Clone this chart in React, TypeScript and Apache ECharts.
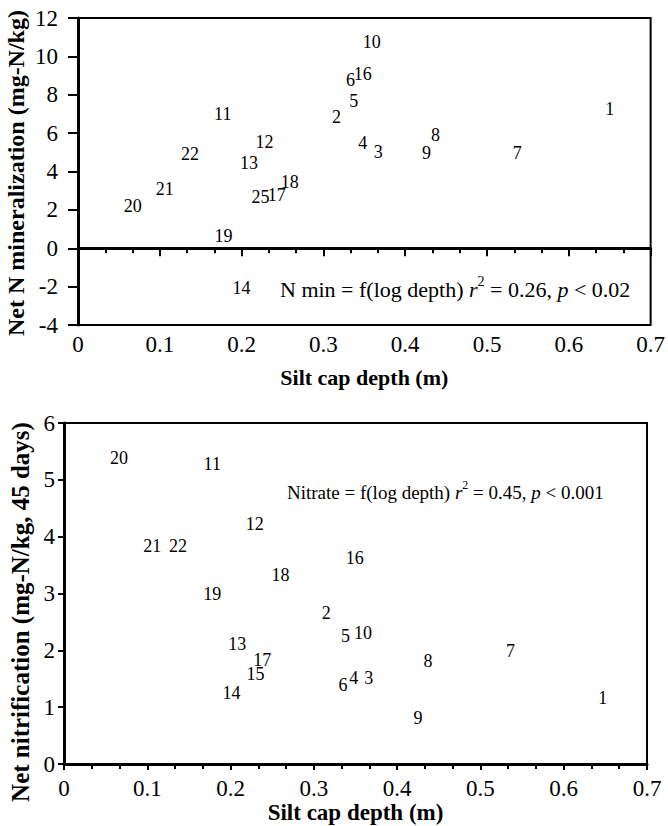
import React, { useEffect, useRef } from "react";
import * as echarts from "echarts";

// Top panel: net N mineralization vs silt cap depth
const minLabels = ["1", "2", "3", "4", "5", "6", "7", "8", "9", "10", "11", "12", "13", "14", "25", "16", "17", "18", "19", "20", "21", "22"];
const minDepth = [0.650, 0.316, 0.367, 0.348, 0.337, 0.333, 0.537, 0.437, 0.426, 0.359, 0.177, 0.228, 0.209, 0.200, 0.223, 0.348, 0.243, 0.259, 0.178, 0.067, 0.106, 0.137];
const minValue = [7.28, 6.84, 5.0, 5.48, 7.7, 8.75, 4.94, 5.88, 4.94, 10.73, 6.98, 5.52, 4.43, -2.08, 2.66, 9.06, 2.76, 3.45, 0.63, 2.19, 3.07, 4.9];

// Bottom panel: net nitrification vs silt cap depth
const nitLabels = ["1", "2", "3", "4", "5", "6", "7", "8", "9", "10", "11", "12", "13", "14", "15", "16", "17", "18", "19", "20", "21", "22"];
const nitDepth = [0.647, 0.315, 0.366, 0.348, 0.338, 0.335, 0.536, 0.437, 0.425, 0.359, 0.178, 0.229, 0.208, 0.201, 0.230, 0.349, 0.238, 0.260, 0.178, 0.066, 0.106, 0.137];
const nitValue = [1.16, 2.66, 1.52, 1.52, 2.26, 1.39, 1.98, 1.82, 0.81, 2.31, 5.27, 4.23, 2.12, 1.25, 1.59, 3.63, 1.83, 3.32, 3.0, 5.38, 3.84, 3.84];

const xAxisTitle = "Silt cap depth (m)";
const yTitleTop = "Net N mineralization (mg-N/kg)";
const yTitleBottom = "Net nitrification (mg-N/kg, 45 days)";
const FONT = "Liberation Serif";

export default function App() {
  const ref = useRef<HTMLDivElement>(null);
  useEffect(() => {
    document.body.style.margin = "0";
    const chart = echarts.init(ref.current!, null, { renderer: "svg" });
    const xAxisBase = (gridIndex: number, gap: number, nameSize: number, tickLen: number, labelMargin: number) => ({
      type: "value",
      gridIndex,
      min: 0,
      max: 0.7,
      interval: 0.1,
      name: xAxisTitle,
      nameLocation: "middle",
      nameGap: gap,
      nameTextStyle: { fontFamily: FONT, fontWeight: "bold", fontSize: nameSize, color: "#000" },
      axisLine: { show: true, lineStyle: { color: "#000", width: 3 } },
      axisTick: { show: true, inside: false, length: tickLen, lineStyle: { color: "#000", width: 2 } },
      minorTick: { show: true, splitNumber: 3, length: 5, lineStyle: { color: "#000", width: 2 } },
      axisLabel: { fontFamily: FONT, fontSize: 23, color: "#000", margin: labelMargin },
      splitLine: { show: false },
    });
    const yAxisBase = (gridIndex: number, min: number, max: number, interval: number, tickLen: number, labelMargin: number) => ({
      type: "value",
      gridIndex,
      min,
      max,
      interval,
      axisLine: { show: true, lineStyle: { color: "#000", width: 3 } },
      axisTick: { show: true, length: tickLen, lineStyle: { color: "#000", width: 2 } },
      axisLabel: { fontFamily: FONT, fontSize: 23, color: "#000", margin: labelMargin },
      splitLine: { show: false },
    });
    const data1 = minDepth.map((d, i) => [d, minValue[i], minLabels[i]]);
    const data2 = nitDepth.map((d, i) => [d, nitValue[i], nitLabels[i]]);
    const labelCfg = (size: number) => ({
      show: true,
      position: "inside",
      formatter: (p: any) => p.value[2],
      fontFamily: FONT,
      fontSize: size,
      color: "#000",
      opacity: 1,
      textBorderWidth: 0,
    });
    chart.setOption({
      animation: false,
      backgroundColor: "#fff",
      grid: [
        { left: 78, top: 18, width: 573, height: 307, show: true, borderColor: "#000", borderWidth: 2, backgroundColor: "transparent" },
        { left: 64, top: 423, width: 583, height: 341, show: true, borderColor: "#000", borderWidth: 2, backgroundColor: "transparent" },
      ],
      xAxis: [xAxisBase(0, 41, 22, 8, 8), xAxisBase(1, 36, 23, 6, 13)],
      yAxis: [yAxisBase(0, -4, 12, 2, 10, 20), yAxisBase(1, 0, 6, 1, 6, 9)],
      series: [
        {
          type: "scatter",
          xAxisIndex: 0,
          yAxisIndex: 0,
          data: data1,
          symbolSize: 0,
          itemStyle: { color: "#000", opacity: 1 },
          label: labelCfg(18),
          markLine: {
            silent: true,
            symbol: "none",
            label: { show: false },
            lineStyle: { color: "#000", width: 1, type: "solid", opacity: 1 },
            data: [{ yAxis: 0 }],
          },
        },
        {
          type: "scatter",
          xAxisIndex: 1,
          yAxisIndex: 1,
          data: data2,
          symbolSize: 0,
          itemStyle: { color: "#000", opacity: 1 },
          label: labelCfg(18),
        },
      ],
      graphic: [
        {
          type: "text",
          x: 16,
          y: 173,
          rotation: Math.PI / 2,
          style: {
            text: yTitleTop,
            fontFamily: FONT,
            fontWeight: "bold",
            fontSize: 24,
            fill: "#000",
            align: "center",
            verticalAlign: "middle",
          },
        },
        {
          type: "text",
          x: 20,
          y: 612,
          rotation: Math.PI / 2,
          style: {
            text: yTitleBottom,
            fontFamily: FONT,
            fontWeight: "bold",
            fontSize: 25,
            fill: "#000",
            align: "center",
            verticalAlign: "middle",
          },
        },
        {
          type: "text",
          left: 280,
          top: 274,
          style: {
            text: "{n|N min = f(log depth) }{i|r}{s|2}{n| = 0.26, }{i|p}{n| < 0.02}",
            rich: {
              n: { fontFamily: FONT, fontSize: 22, fill: "#000", lineHeight: 26, verticalAlign: "bottom" },
              i: { fontFamily: FONT, fontSize: 22, fontStyle: "italic", fill: "#000", lineHeight: 26, verticalAlign: "bottom" },
              s: { fontFamily: FONT, fontSize: 14, fill: "#000", lineHeight: 24, verticalAlign: "top" },
            },
          },
        },
        {
          type: "text",
          left: 287,
          top: 479,
          style: {
            text: "{n|Nitrate = f(log depth) }{i|r}{s|2}{n| = 0.45, }{i|p}{n| < 0.001}",
            rich: {
              n: { fontFamily: FONT, fontSize: 19, fill: "#000", lineHeight: 23, verticalAlign: "bottom" },
              i: { fontFamily: FONT, fontSize: 19, fontStyle: "italic", fill: "#000", lineHeight: 23, verticalAlign: "bottom" },
              s: { fontFamily: FONT, fontSize: 12, fill: "#000", lineHeight: 21, verticalAlign: "top" },
            },
          },
        },
      ],
    });
    return () => chart.dispose();
  }, []);
  return <div ref={ref} style={{ position: "fixed", left: 0, top: 0, width: 668, height: 826 }} />;
}
